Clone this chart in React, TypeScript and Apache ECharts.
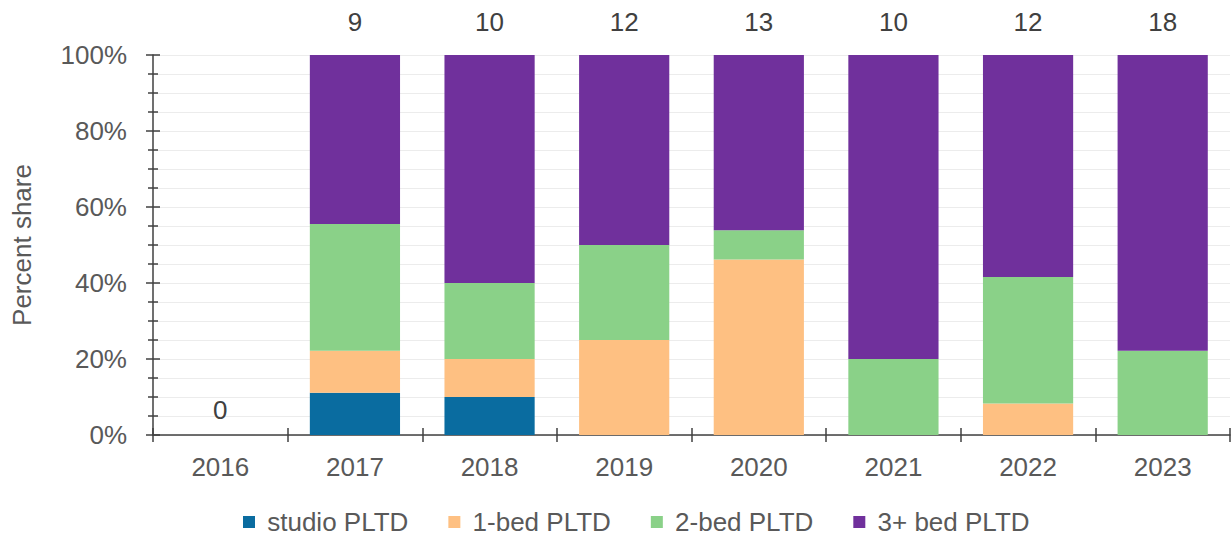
import React, { useEffect, useRef } from "react";
import * as echarts from "echarts";

const years = ["2016", "2017", "2018", "2019", "2020", "2021", "2022", "2023"];
const counts = [0, 9, 10, 12, 13, 10, 12, 18];
const studio = [0, 11.1, 10, 0, 0, 0, 0, 0];
const oneBed = [0, 11.1, 10, 25, 46.2, 0, 8.3, 0];
const twoBed = [0, 33.3, 20, 25, 7.7, 20, 33.3, 22.2];
const threeBed = [0, 44.5, 60, 50, 46.1, 80, 58.4, 77.8];
const seriesNames = ["studio PLTD", "1-bed PLTD", "2-bed PLTD", "3+ bed PLTD"];
const colors = ["#0a6ca0", "#fec082", "#8ad188", "#70309c"];

export default function App() {
  const ref = useRef<HTMLDivElement>(null);
  useEffect(() => {
    if (!ref.current) return;
    const chart = echarts.init(ref.current, null, { renderer: "svg" });
    const font = "'Liberation Sans', Arial, sans-serif";
    const axisColor = "#404040";
    const gridColor = "#ececec";
    const fs = 26;
    const valueSets = [studio, oneBed, twoBed, threeBed];
    chart.setOption({
      animation: false,
      textStyle: { fontFamily: font },
      grid: { left: 153, right: 1, top: 55, bottom: 98 },
      legend: {
        data: seriesNames,
        top: 503,
        left: 238,
        icon: "rect",
        itemWidth: 12,
        itemHeight: 12,
        itemGap: 40,
        formatter: (name: string) => " " + name,
        textStyle: {
          fontSize: fs,
          lineHeight: 28,
          color: "#595959",
          fontFamily: font,
        },
      },
      xAxis: [
        {
          type: "category",
          data: years,
          axisLine: { lineStyle: { color: axisColor, width: 1.5 } },
          axisTick: { show: true, length: 7, lineStyle: { color: axisColor, width: 1.5 } },
          axisLabel: { fontSize: fs, color: "#595959", margin: 19, fontFamily: font },
        },
        {
          type: "category",
          data: years,
          position: "bottom",
          axisLine: { show: false },
          axisTick: { show: true, inside: true, length: 7, lineStyle: { color: axisColor, width: 1.5 } },
          axisLabel: { show: false },
        },
      ],
      yAxis: [
        {
          type: "value",
          min: 0,
          max: 100,
          interval: 20,
          name: "Percent share",
          nameLocation: "middle",
          nameGap: 118,
          nameTextStyle: { fontSize: fs, color: "#595959", fontFamily: font },
          axisLine: { show: true, lineStyle: { color: axisColor, width: 1.5 } },
          axisTick: { show: true, length: 7, lineStyle: { color: axisColor, width: 1.5 } },
          minorTick: { show: true, splitNumber: 4, length: 5, lineStyle: { color: axisColor, width: 1.5 } },
          axisLabel: { fontSize: fs, color: "#595959", margin: 26, formatter: "{value}%", fontFamily: font },
          splitLine: { show: true, lineStyle: { color: gridColor, width: 1 } },
          minorSplitLine: { show: true, lineStyle: { color: gridColor, width: 1 } },
        },
        {
          type: "value",
          min: 0,
          max: 100,
          interval: 20,
          position: "left",
          axisLine: { show: false },
          axisTick: { show: true, inside: true, length: 7, lineStyle: { color: axisColor, width: 1.5 } },
          minorTick: { show: true, splitNumber: 4, length: 5, lineStyle: { color: axisColor, width: 1.5 } },
          axisLabel: { show: false },
          splitLine: { show: false },
        },
      ],
      series: [
        ...seriesNames.map((name, i) => ({
          name,
          type: "bar",
          stack: "total",
          barCategoryGap: "33%",
          itemStyle: { color: colors[i] },
          data: valueSets[i],
        })),
        {
          name: "count",
          type: "bar",
          stack: "total",
          barCategoryGap: "33%",
          itemStyle: { color: "transparent" },
          data: counts.map((c) => ({
            value: 0,
            label: { distance: c === 0 ? 12 : 20 },
          })),
          label: {
            show: true,
            position: "top",
            fontSize: fs,
            color: "#404040",
            fontFamily: font,
            formatter: (p: any) => String(counts[p.dataIndex]),
          },
        },
      ],
    });
    return () => chart.dispose();
  }, []);
  return (
    <div
      ref={ref}
      style={{ position: "absolute", left: 0, top: 0, width: 1231, height: 533 }}
    />
  );
}
